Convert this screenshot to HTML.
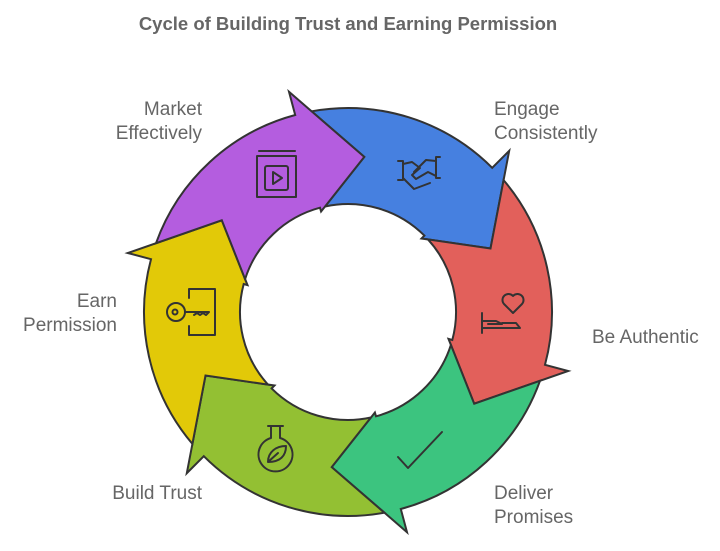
<!DOCTYPE html>
<html><head><meta charset="utf-8"><style>
body{margin:0;background:#fff;width:720px;height:546px;overflow:hidden;font-family:"Liberation Sans",sans-serif}
</style></head><body>
<svg id="s" width="720" height="546" viewBox="0 0 720 546" xmlns="http://www.w3.org/2000/svg">
<text x="348" y="30" text-anchor="middle" font-family="Liberation Sans, sans-serif" font-weight="bold" font-size="18.5" fill="#666">Cycle of Building Trust and Earning Permission</text>
<g id="ring" stroke="#333" stroke-width="2" stroke-linejoin="miter"></g>
<g font-family="Liberation Sans, sans-serif" font-size="19" fill="#666">
<text x="202" y="115" text-anchor="end">Market</text>
<text x="202" y="139" text-anchor="end">Effectively</text>
<text x="494" y="115">Engage</text>
<text x="494" y="139">Consistently</text>
<text x="592" y="343">Be Authentic</text>
<text x="494" y="499">Deliver</text>
<text x="494" y="523">Promises</text>
<text x="202" y="499" text-anchor="end">Build Trust</text>
<text x="117" y="307" text-anchor="end">Earn</text>
<text x="117" y="331" text-anchor="end">Permission</text>
</g>
<g fill="none" stroke="#333" stroke-width="2" stroke-linecap="round" stroke-linejoin="round">
<path d="M259 151 H295 M257 156 V197 H296 V156 H257"/><rect x="265" y="166" width="23" height="24" rx="2"/><path d="M273 172 V184 L282 178 Z"/>
<path d="M398 161 H403 V180 H398 M403 164 L412 162 L420 168 L412 175 L416 179 L428 172 L436 176 M440 157 H436 V178 H440 M436 161 L426 160 L414 172 M403 178 L414 189 L430 183"/>
<path d="M513 313 L504 304 A5 5 0 0 1 513 296 A5 5 0 0 1 522 304 Z"/><path d="M482 313 V333 M482 321 H496 L502 324 H488 M482 328 H520 L516 323 H502"/>
<path d="M398 457 L408 468 L442 432"/>
<path d="M268 426 H283 M271 426 V438 A17 17 0 1 0 280 438 V426"/><path d="M268 462 C268 452 276 446 286 446 C286 456 280 462 268 462 Z M268 462 L278 453"/>
<circle cx="176" cy="312" r="9"/><circle cx="175" cy="312" r="2.5"/><path d="M185 312 H209 L206 315 L203 313 L200 315 L197 313 L194 315 M189 289 H215 V335 H189 V326 M189 298 V289"/>
</g>
</svg>
<script>
var cx=348,cy=312,R=204,r=108,m=156;
function XY(a,rad){a=a*Math.PI/180;return [cx+rad*Math.sin(a),cy-rad*Math.cos(a)];}
function S(p){return p[0].toFixed(1)+","+p[1].toFixed(1);}
function ang(p){return Math.atan2(p[0]-cx,-(p[1]-cy))*180/Math.PI;}
function cross(A,B,rad){ // point on segment A->B with radius rad
 var lo=0,hi=1;
 var ra=Math.hypot(A[0]-cx,A[1]-cy);
 for(var i=0;i<40;i++){var t=(lo+hi)/2;var p=[A[0]+(B[0]-A[0])*t,A[1]+(B[1]-A[1])*t];var rr=Math.hypot(p[0]-cx,p[1]-cy);
  if((rr-rad)*(ra-rad)>0)lo=t;else hi=t;}
 return [A[0]+(B[0]-A[0])*lo,A[1]+(B[1]-A[1])*lo];}
var cols=["#4680e0","#e2605b","#3cc47f","#93c033","#e2c908","#b45ddf"];
var g=document.getElementById("ring"),html="";
function headInfo(a1){var hb=a1-9,tip=a1+12;var W=XY(hb,R+24),T=XY(tip,m),Wi=XY(hb,r-4);
 return {W:W,T:T,Wi:Wi,o:cross(W,T,R),i:cross(Wi,T,r)};}
for(var k=0;k<6;k++){
 var a0=-6+60*k,a1=a0+60,hb=a1-9;
 var prev=headInfo(a0);
 var d="M"+S(prev.o)+" A"+R+","+R+" 0 0 1 "+S(XY(hb,R))+" L"+S(XY(hb,R+24))+" L"+S(XY(a1+12,m))+" L"+S(XY(hb,r-4))+" L"+S(XY(hb,r))+
 " A"+r+","+r+" 0 0 0 "+S(prev.i)+" L"+S(prev.T)+" Z";
 html+='<path d="'+d+'" fill="'+cols[k]+'"/>';
}
g.innerHTML=html;
</script>
</body></html>
